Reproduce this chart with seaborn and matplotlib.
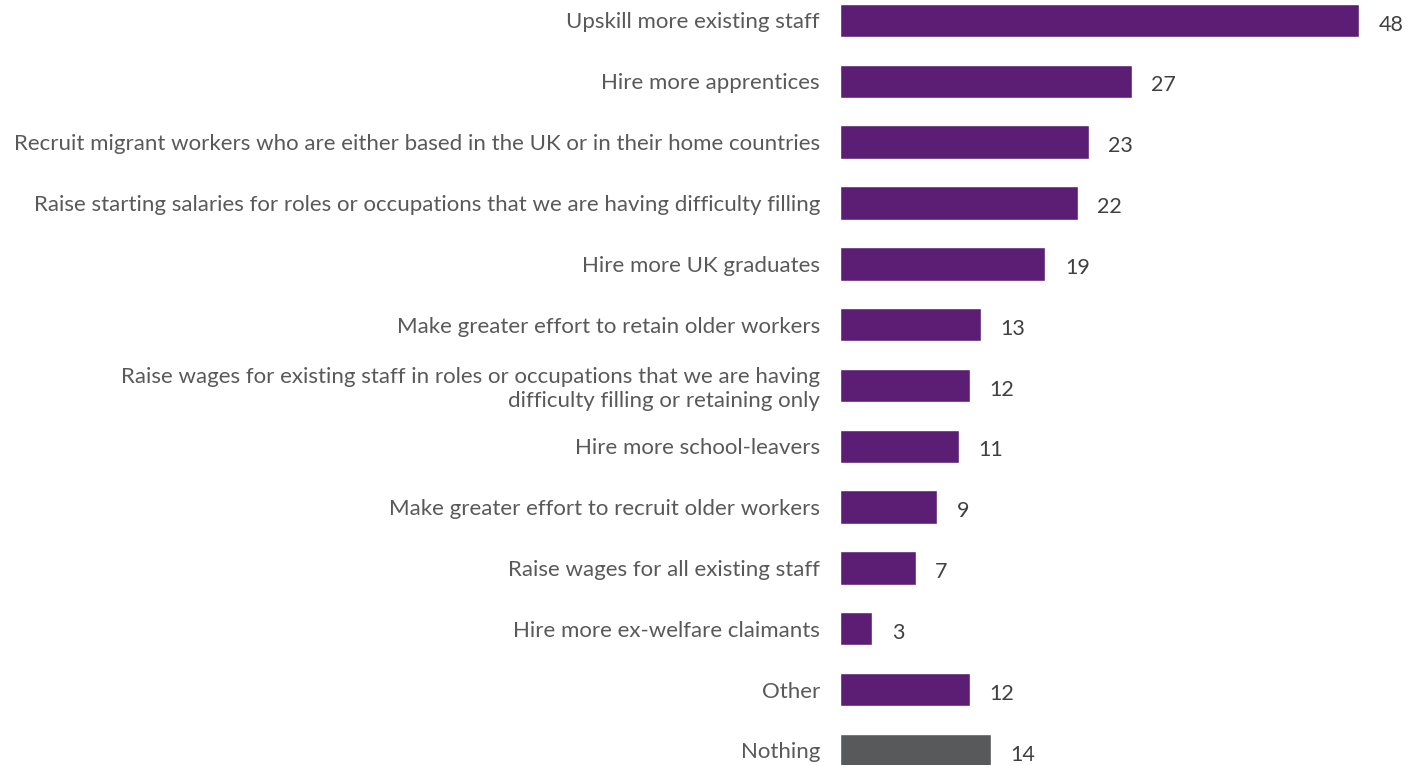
import matplotlib
matplotlib.use("Agg")
import matplotlib.pyplot as plt
import seaborn as sns
import pandas as pd

# Survey responses: actions taken to address skills shortages (%)
categories = [
    "Upskill more existing staff",
    "Hire more apprentices",
    "Recruit migrant workers who are either based in the UK or in their home countries",
    "Raise starting salaries for roles or occupations that we are having difficulty filling",
    "Hire more UK graduates",
    "Make greater effort to retain older workers",
    "Raise wages for existing staff in roles or occupations that we are having\ndifficulty filling or retaining only",
    "Hire more school-leavers",
    "Make greater effort to recruit older workers",
    "Raise wages for all existing staff",
    "Hire more ex-welfare claimants",
    "Other",
    "Nothing",
]
values = [48, 27, 23, 22, 19, 13, 12, 11, 9, 7, 3, 12, 14]
groups = ["action"] * 12 + ["none"]

PURPLE = "#5C1E74"
GREY = "#58595B"
LABEL_COLOR = "#595959"
VALUE_COLOR = "#404040"

sns.set_theme(style="white")
plt.rcParams["font.family"] = ["Lato", "DejaVu Sans"]

df = pd.DataFrame({"category": categories, "value": values, "group": groups})

fig = plt.figure(figsize=(14.16, 7.65), dpi=100)
ax = fig.add_axes([840 / 1416, 0.0, 1 - 840 / 1416, 1.0])

sns.barplot(
    data=df, y="category", x="value", hue="group",
    palette={"action": PURPLE, "none": GREY},
    orient="h", width=0.55, dodge=False, legend=False, ax=ax,
    saturation=1,
)

for i, v in enumerate(values):
    ax.annotate(
        f"{v}", xy=(v, i), xytext=(14, -3), textcoords="offset points",
        ha="left", va="center", fontsize=15.5, color=VALUE_COLOR,
    )

ax.set_xlim(0, (1416 - 840) / 10.81)
ax.set_ylim(12.24, -0.337)
ax.set_xlabel("")
ax.set_ylabel("")
ax.set_xticks([])
ax.tick_params(axis="y", length=0, pad=14.4, labelsize=16, labelcolor=LABEL_COLOR)
for lbl in ax.get_yticklabels():
    lbl.set_multialignment("right")
    lbl.set_linespacing(1.25)
sns.despine(ax=ax, left=True, bottom=True)

fig.savefig("out.png", dpi=100)
